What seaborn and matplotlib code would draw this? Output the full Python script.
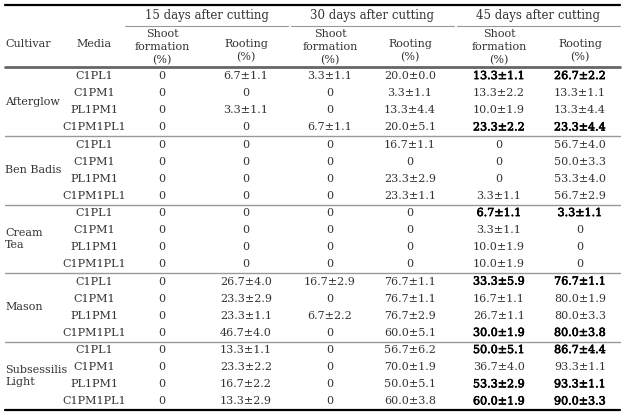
import matplotlib
matplotlib.use("Agg")
import matplotlib.pyplot as plt
import matplotlib.patheffects as pe
import seaborn as sns

sns.set_theme(style="white")
plt.rcParams["font.family"] = ["DejaVu Serif"]

cultivars = ["Afterglow", "Ben Badis", "Cream\nTea", "Mason", "Subsessilis\nLight"]
media = ["C1PL1", "C1PM1", "PL1PM1", "C1PM1PL1"]
periods = ["15 days after cutting", "30 days after cutting", "45 days after cutting"]

# mean and SE per row (5 cultivars x 4 media)
shoot15 = [0.0] * 20
shoot15_se = [0.0] * 20
root15 = [6.7, 0, 3.3, 0, 0, 0, 0, 0, 0, 0, 0, 0,
          26.7, 23.3, 23.3, 46.7, 13.3, 23.3, 16.7, 13.3]
root15_se = [1.1, 0, 1.1, 0, 0, 0, 0, 0, 0, 0, 0, 0,
             4.0, 2.9, 1.1, 4.0, 1.1, 2.2, 2.2, 2.9]
shoot30 = [3.3, 0, 0, 6.7, 0, 0, 0, 0, 0, 0, 0, 0,
           16.7, 0, 6.7, 0, 0, 0, 0, 0]
shoot30_se = [1.1, 0, 0, 1.1, 0, 0, 0, 0, 0, 0, 0, 0,
              2.9, 0, 2.2, 0, 0, 0, 0, 0]
root30 = [20.0, 3.3, 13.3, 20.0, 16.7, 0, 23.3, 23.3, 0, 0, 0, 0,
          76.7, 76.7, 76.7, 60.0, 56.7, 70.0, 50.0, 60.0]
root30_se = [0.0, 1.1, 4.4, 5.1, 1.1, 0, 2.9, 1.1, 0, 0, 0, 0,
             1.1, 1.1, 2.9, 5.1, 6.2, 1.9, 5.1, 3.8]
shoot45 = [13.3, 13.3, 10.0, 23.3, 0, 0, 0, 3.3, 6.7, 3.3, 10.0, 10.0,
           33.3, 16.7, 26.7, 30.0, 50.0, 36.7, 53.3, 60.0]
shoot45_se = [1.1, 2.2, 1.9, 2.2, 0, 0, 0, 1.1, 1.1, 1.1, 1.9, 1.9,
              5.9, 1.1, 1.1, 1.9, 5.1, 4.0, 2.9, 1.9]
root45 = [26.7, 13.3, 13.3, 23.3, 56.7, 50.0, 53.3, 56.7, 3.3, 0, 0, 0,
          76.7, 80.0, 80.0, 80.0, 86.7, 93.3, 93.3, 90.0]
root45_se = [2.2, 1.1, 4.4, 4.4, 4.0, 3.3, 4.0, 2.9, 1.1, 0, 0, 0,
             1.1, 1.9, 3.3, 3.8, 4.4, 1.1, 1.1, 3.3]
bold_rows_45 = [0, 3, 8, 12, 15, 16, 18, 19]

columns = [(shoot15, shoot15_se), (root15, root15_se), (shoot30, shoot30_se),
           (root30, root30_se), (shoot45, shoot45_se), (root45, root45_se)]
sub_headers = ["Shoot\nformation\n(%)", "Rooting\n(%)"] * 3


def fmt(m, s):
    return "0" if m == 0 else f"{m:.1f}\u00b1{s:.1f}"


fig = plt.figure(figsize=(6.28, 4.19), dpi=100)
ax = fig.add_axes([0, 0, 1, 1])
ax.set_xlim(0, 628)
ax.set_ylim(419, 0)
ax.axis("off")

fs = 8
txt = "#333333"
col_x = [162, 246, 330, 410, 499, 580]
media_x = 94
left, right = 5, 620
head_bot = 67.5
row_h = 17.125
semibold = [pe.withStroke(linewidth=0.45, foreground="black")]

# rules
ax.plot([left, right], [5, 5], color="black", lw=1.6)
ax.plot([left, right], [head_bot, head_bot], color="#666666", lw=2.0)
ax.plot([left, right], [410, 410], color="black", lw=1.6)
for g in range(1, 5):
    y = head_bot + g * 4 * row_h
    ax.plot([left, right], [y, y], color="#999999", lw=1.0)
spans = [(125, 288), (291, 454), (457, 620)]
for (a, b), title in zip(spans, periods):
    ax.plot([a, b], [26, 26], color="#999999", lw=0.8)
    ax.text((a + b) / 2, 16, title, ha="center", va="center", fontsize=fs + 0.5, color=txt)

# header
ax.text(left, 44, "Cultivar", ha="left", va="center", fontsize=fs, color=txt)
ax.text(media_x, 44, "Media", ha="center", va="center", fontsize=fs, color=txt)
for x, h in zip(col_x, sub_headers):
    ax.text(x, 47 if h.count("\n") == 2 else 51, h, ha="center", va="center",
            fontsize=fs, color=txt, linespacing=1.35)

# body
for g, name in enumerate(cultivars):
    yc = head_bot + (g * 4 + 2) * row_h
    ax.text(left, yc, name, ha="left", va="center", fontsize=fs, color=txt, linespacing=1.3)
    for k, m in enumerate(media):
        i = g * 4 + k
        y = head_bot + (i + 0.5) * row_h
        ax.text(media_x, y, m, ha="center", va="center", fontsize=fs, color=txt)
        for c, (vals, ses) in enumerate(columns):
            bold = c >= 4 and i in bold_rows_45
            ax.text(col_x[c], y, fmt(vals[i], ses[i]), ha="center", va="center",
                    fontsize=fs, color="black" if bold else txt,
                    path_effects=semibold if bold else None)

fig.savefig("out.png", dpi=100, facecolor="white")
